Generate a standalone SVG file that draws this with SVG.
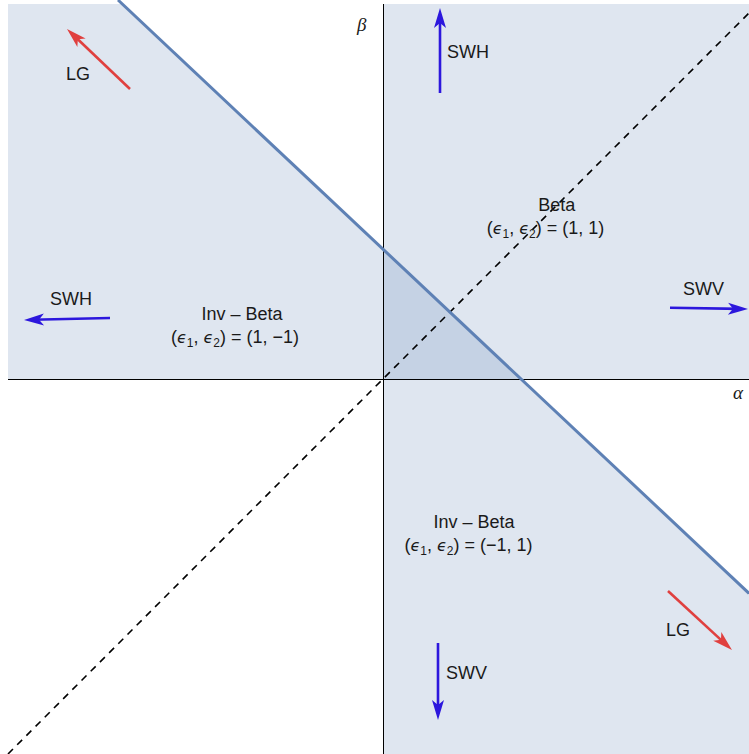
<svg xmlns="http://www.w3.org/2000/svg" width="749" height="754" viewBox="0 0 749 754">
<style>
.reg{fill:#5E81B5;fill-opacity:0.2;stroke:none}
.bound{fill:none;stroke:#5E81B5;stroke-width:3}
.axis{stroke:#000;stroke-width:1;fill:none}
.dash{stroke:#000;stroke-width:1.6;stroke-dasharray:7,6;fill:none}
.lbl{font-family:"Liberation Sans",Arial,sans-serif;font-size:18px;fill:#1a1a1a}
.mid{text-anchor:middle}
.eps{font-style:italic;font-family:"DejaVu Sans","Liberation Sans",sans-serif;font-size:16px}
.sub{font-size:12px}
.math{font-family:"Liberation Serif",serif;font-style:italic;font-size:19px;fill:#1a1a1a}
.blue{stroke:#2c17dd;stroke-width:2.6;fill:none}
.red{stroke:#e0403f;stroke-width:2.6;fill:none}
</style>
<defs>
<marker id="ahb" markerUnits="userSpaceOnUse" markerWidth="24" markerHeight="16" viewBox="-14 -8 24 16" refX="0" refY="0" orient="auto">
<path d="M8,0 L-12,-6 L-7,0 L-12,6 Z" fill="#2c17dd"/>
</marker>
<marker id="ahr" markerUnits="userSpaceOnUse" markerWidth="24" markerHeight="16" viewBox="-14 -8 24 16" refX="0" refY="0" orient="auto">
<path d="M8,0 L-12,-6 L-7,0 L-12,6 Z" fill="#e0403f"/>
</marker>
</defs>
<rect width="749" height="754" fill="#fff"/>
<g id="regions">
<rect class="reg" x="383" y="4" width="366" height="375"/>
<polygon class="reg" points="8,4 122,4 521,379 8,379"/>
<polygon class="reg" points="383,379 521,379 749,593.3 749,754 383,754"/>
</g>
<g id="connectors">
<line class="dash" x1="8" y1="754" x2="749" y2="13"/>
<line class="axis" x1="383.5" y1="4" x2="383.5" y2="754"/>
<line class="axis" x1="8" y1="379.5" x2="749" y2="379.5" stroke="#333"/>
<line class="bound" x1="118" y1="0" x2="749" y2="593.3"/>
<line class="red" x1="130" y1="89" x2="72.8" y2="34.5" marker-end="url(#ahr)"/>
<line class="blue" x1="440" y1="93" x2="440" y2="16" marker-end="url(#ahb)"/>
<line class="blue" x1="110" y1="318" x2="32" y2="319.8" marker-end="url(#ahb)"/>
<line class="blue" x1="670" y1="307.7" x2="740" y2="308.9" marker-end="url(#ahb)"/>
<line class="red" x1="668" y1="591" x2="726.1" y2="644.6" marker-end="url(#ahr)"/>
<line class="blue" x1="438" y1="643" x2="438" y2="712" marker-end="url(#ahb)"/>
</g>
<g id="axis-labels">
<text class="math" x="357" y="31">β</text>
<text class="math" x="733" y="399">α</text>
</g>
<g id="beta">
<text class="lbl mid" x="556.7" y="211">Beta</text>
<text class="lbl mid" x="545.5" y="234">(<tspan class="eps">ϵ</tspan><tspan class="sub" dy="4">1</tspan><tspan dy="-4">, </tspan><tspan class="eps">ϵ</tspan><tspan class="sub" dy="4">2</tspan><tspan dy="-4">) = (1, 1)</tspan></text>
</g>
<g id="invbeta-left">
<text class="lbl mid" x="242" y="320">Inv – Beta</text>
<text class="lbl mid" x="235" y="343">(<tspan class="eps">ϵ</tspan><tspan class="sub" dy="4">1</tspan><tspan dy="-4">, </tspan><tspan class="eps">ϵ</tspan><tspan class="sub" dy="4">2</tspan><tspan dy="-4">) = (1, −1)</tspan></text>
</g>
<g id="invbeta-bottom">
<text class="lbl mid" x="474" y="528">Inv – Beta</text>
<text class="lbl mid" x="468.5" y="551">(<tspan class="eps">ϵ</tspan><tspan class="sub" dy="4">1</tspan><tspan dy="-4">, </tspan><tspan class="eps">ϵ</tspan><tspan class="sub" dy="4">2</tspan><tspan dy="-4">) = (−1, 1)</tspan></text>
</g>
<g id="lg-top"><text class="lbl" x="66" y="80">LG</text></g>
<g id="swh-top"><text class="lbl" x="447" y="58">SWH</text></g>
<g id="swh-left"><text class="lbl" x="50" y="305">SWH</text></g>
<g id="swv-right"><text class="lbl" x="683" y="295">SWV</text></g>
<g id="lg-bottom"><text class="lbl" x="666" y="636">LG</text></g>
<g id="swv-bottom"><text class="lbl" x="446" y="679">SWV</text></g>
</svg>
